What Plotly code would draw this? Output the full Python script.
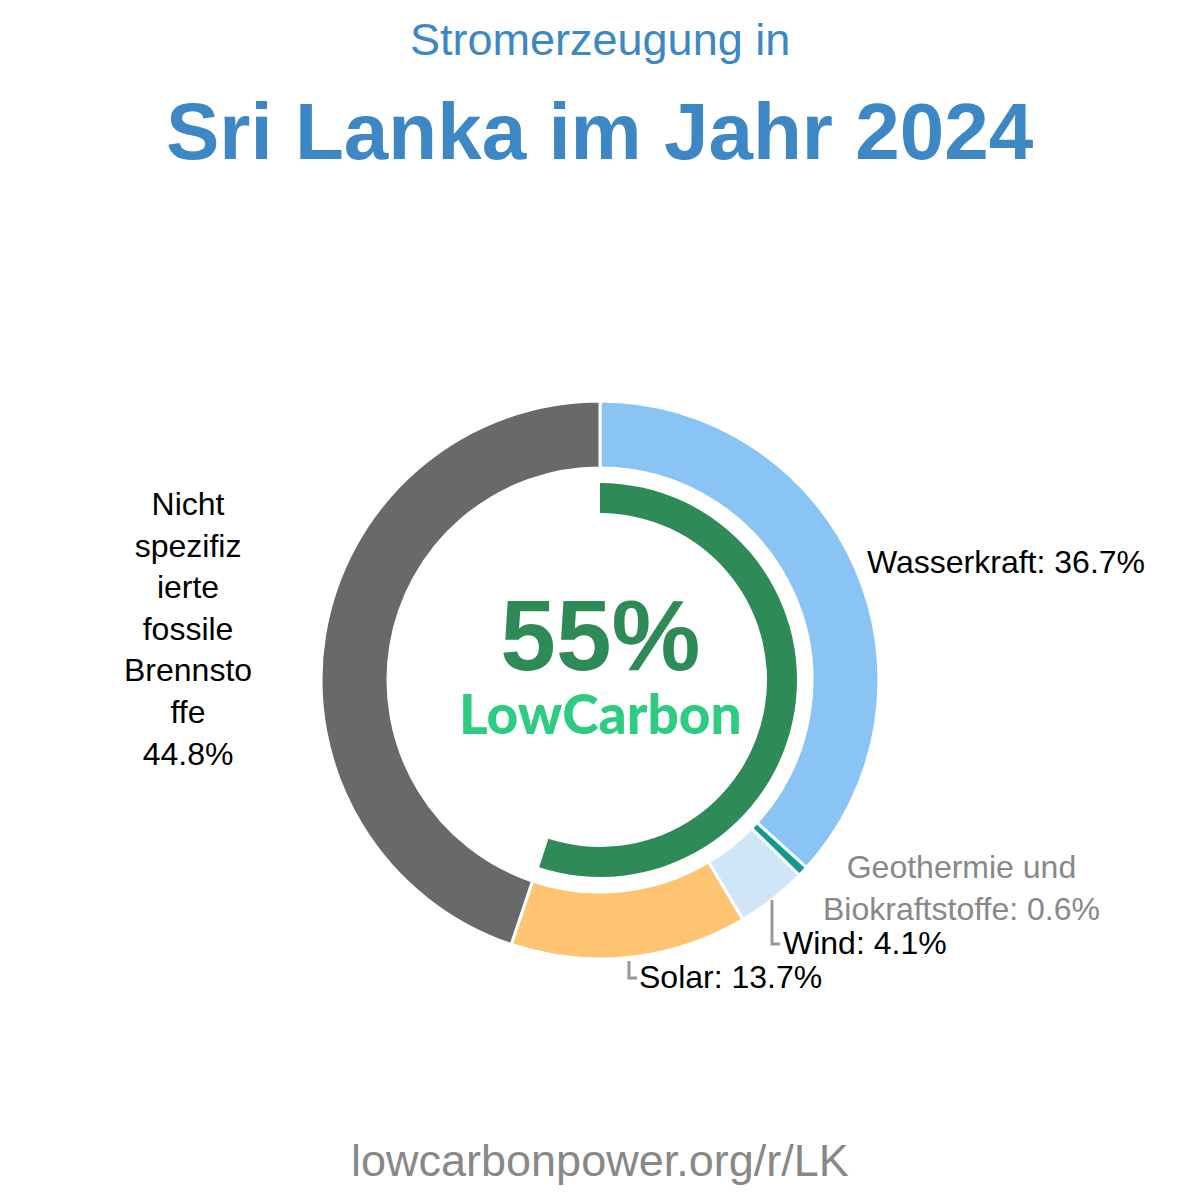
import plotly.graph_objects as go

categories = ["Wasserkraft", "Geothermie und Biokraftstoffe", "Wind", "Solar",
              "Nicht spezifizierte fossile Brennstoffe"]
shares = [36.7, 0.6, 4.1, 13.7, 44.8]
colors = ["#89c4f4", "#11998e", "#d0e6f7", "#ffc472", "#696969"]
low_carbon = 55

W = H = 1200
cx, cy = 600, 680
R_out, R_in = 279, 212
G_out, G_in = 197, 167

def px(x):
    return x / W

def py(y):
    return 1 - y / H

fig = go.Figure()
fig.add_trace(go.Pie(
    values=shares, labels=categories, sort=False, direction="clockwise", rotation=0,
    hole=R_in / R_out, textinfo="none", hoverinfo="label+percent",
    marker=dict(colors=colors, line=dict(color="white", width=3)),
    domain=dict(x=[px(cx - R_out), px(cx + R_out)], y=[py(cy + R_out), py(cy - R_out)]),
    showlegend=False,
))
fig.add_trace(go.Pie(
    values=[low_carbon, 100 - low_carbon], labels=["LowCarbon", "Rest"], sort=False,
    direction="clockwise", rotation=0, hole=G_in / G_out, textinfo="none", hoverinfo="skip",
    marker=dict(colors=["#2e8b57", "rgba(0,0,0,0)"], line=dict(width=0)),
    domain=dict(x=[px(cx - G_out), px(cx + G_out)], y=[py(cy + G_out), py(cy - G_out)]),
    showlegend=False,
))

FONT = "Liberation Sans, Arial, sans-serif"
ann = []
def add(text, x, y, size, color, xanchor="center", bold=False, family=FONT, yanchor="middle"):
    f = dict(size=size, color=color, family=family)
    ann.append(dict(text=f"<b>{text}</b>" if bold else text, x=px(x), y=py(y), xref="paper", yref="paper",
                    showarrow=False, xanchor=xanchor, yanchor=yanchor, font=f))

add("Stromerzeugung in", 600, 40, 45, "#3d87c4")
add("Sri Lanka im Jahr 2024", 600, 132, 80, "#3d87c4", bold=True)
center_text = (f'<span style="font-size:100px;color:#2e8b57"><b>{low_carbon}%</b></span><br>'
               '<span style="font-size:55px;font-family:Lato, sans-serif;font-weight:900;color:#2ecc80">'
               'LowCarbon</span>')
add(center_text, 600, 662, 49, "#2e8b57")
add("lowcarbonpower.org/r/LK", 600, 1160, 45, "#888888")
add(f"{categories[0]}: {shares[0]}%", 865, 562, 32, "#000000", xanchor="left")
add(f"Geothermie und<br>Biokraftstoffe: {shares[1]}%", 961, 888, 32, "#888888")
add(f"{categories[2]}: {shares[2]}%", 781, 943, 32, "#000000", xanchor="left")
add(f"{categories[3]}: {shares[3]}%", 637, 977, 32, "#000000", xanchor="left")
add(f"Nicht<br>spezifiz<br>ierte<br>fossile<br>Brennsto<br>ffe<br>{shares[4]}%", 188, 629, 32, "#000000")

shapes = [
    dict(type="path", path=f"M {px(772)} {py(900)} L {px(772)} {py(944)} L {px(780)} {py(944)}",
         xref="paper", yref="paper", line=dict(color="#999999", width=3)),
    dict(type="path", path=f"M {px(629)} {py(961)} L {px(629)} {py(978)} L {px(637)} {py(978)}",
         xref="paper", yref="paper", line=dict(color="#999999", width=3)),
]

fig.update_layout(width=W, height=H, margin=dict(l=0, r=0, t=0, b=0),
                  paper_bgcolor="white", plot_bgcolor="white",
                  annotations=ann, shapes=shapes)
fig.write_html("out.html")
